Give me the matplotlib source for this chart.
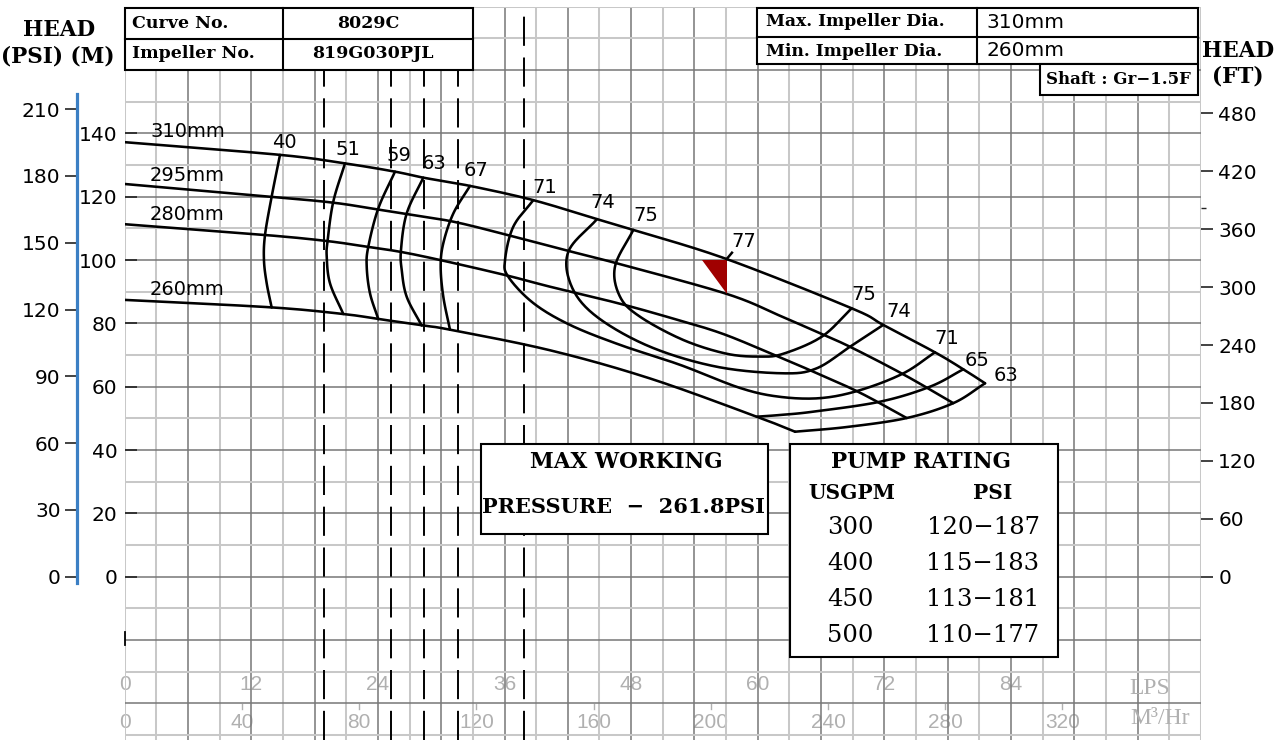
import numpy as np
import matplotlib
matplotlib.use("Agg")
import matplotlib.pyplot as plt
from matplotlib.patches import Rectangle, Polygon

# ---------------- chart values ----------------
curve_no = "8029C"
impeller_no = "819G030PJL"
max_impeller = "310mm"
min_impeller = "260mm"
shaft_text = "Shaft : Gr\u22121.5F"
max_working_psi = 261.8

lps_ticks = [0, 12, 24, 36, 48, 60, 72, 84]
m3h_ticks = [0, 40, 80, 120, 160, 200, 240, 280, 320]
head_m_ticks = [0, 20, 40, 60, 80, 100, 120, 140]
head_psi_ticks = [0, 30, 60, 90, 120, 150, 180, 210]
head_ft_ticks = [0, 60, 120, 180, 240, 300, 360, 420, 480]

guide_gpm = [300, 400, 450, 500, 600]
rating_gpm = [300, 400, 450, 500]
rating_psi = ["120\u2212187", "115\u2212183", "113\u2212181", "110\u2212177"]

# impeller diameter curves: flow (L/s) vs head (m)
dia_labels = ["310mm", "295mm", "280mm", "260mm"]
q_310 = [0, 14.72, 20.88, 25.62, 28.30, 32.73, 38.73, 44.77, 48.21, 57.06, 68.91, 71.90, 76.80, 79.49, 81.55]
h_310 = [137.2, 133.2, 130.5, 127.9, 126.0, 123.4, 118.9, 112.9, 109.5, 100.3, 84.75, 79.5, 70.86, 65.49, 61.07]
q_295 = [0, 13.77, 19.77, 23.89, 26.73, 31.15, 36.05, 41.90, 46.64, 57.06, 62.11, 66.07, 68.75, 73.80, 78.54]
h_295 = [124.0, 120.0, 118.1, 116.0, 114.5, 112.1, 108.1, 103.0, 98.96, 89.3, 82.4, 76.6, 72.6, 63.9, 54.8]
q_280 = [0, 13.30, 19.15, 22.94, 26.10, 29.89, 36.05, 40.31, 46.47, 51.37, 56.43, 61.17, 64.48, 69.51, 74.12]
h_280 = [111.3, 107.9, 106.0, 104.2, 102.6, 100.0, 95.26, 91.57, 86.6, 82.1, 77.0, 70.6, 65.9, 58.4, 50.1]
q_260 = [0, 13.77, 20.72, 24.20, 28.30, 30.83, 40.31, 49.79, 59.91, 63.54]
h_260 = [87.4, 85.07, 82.95, 81.3, 79.3, 78.0, 71.5, 62.6, 50.52, 45.78]

# efficiency (%) iso-lines: flow (L/s) vs head (m)
e40_q = [14.72, 13.93, 13.30, 13.20, 13.46, 13.93]
e40_h = [133.2, 120.0, 107.9, 100.0, 92.64, 85.0]
e51_q = [20.88, 19.77, 19.24, 19.15, 19.46, 20.72]
e51_h = [130.5, 118.4, 106.3, 101.0, 92.64, 82.95]
e59_q = [25.62, 24.04, 23.09, 22.94, 23.25, 24.04]
e59_h = [127.9, 116.3, 104.2, 97.9, 89.5, 81.3]
e63_q = [28.30, 26.73, 26.19, 26.26, 26.73, 28.15]
e63_h = [126.0, 114.7, 103.2, 96.8, 88.4, 79.3]
e67_q = [32.73, 31.15, 30.20, 29.95, 30.20, 30.83]
e67_h = [123.4, 114.7, 105.3, 97.9, 88.4, 78.0]
e71_q = [38.73, 36.83, 36.05, 36.36, 38.73, 42.21, 46.95, 52.64, 58.32, 62.10, 66.00, 69.70, 73.80, 76.80]
e71_h = [118.9, 110.5, 100.0, 94.7, 86.4, 79.5, 73.2, 66.9, 59.6, 56.8, 56.4, 58.9, 64.2, 70.86]
e74_q = [44.77, 42.05, 42.37, 44.74, 49.79, 56.11, 62.43, 65.59, 68.75, 71.90]
e74_h = [112.9, 102.6, 91.57, 82.1, 72.62, 66.3, 64.22, 65.8, 72.62, 79.5]
e75_q = [48.21, 46.47, 46.95, 48.84, 52.95, 57.06, 60.22, 62.43, 66.07, 68.91]
e75_h = [109.5, 97.9, 88.4, 82.1, 74.74, 70.4, 69.5, 70.4, 75.78, 84.75]
e65_q = [79.49, 76.33, 71.60, 65.24, 62.11, 59.91]
e65_h = [65.49, 60.0, 55.26, 52.1, 51.06, 50.52]
e63r_q = [81.55, 78.54, 74.12, 68.46, 63.54]
e63r_h = [61.07, 54.8, 50.1, 47.27, 45.78]
# best efficiency point (77 %) marker triangle
bep_q = [54.70, 57.06, 57.06]
bep_h = [100.0, 100.0, 89.3]
bep_label = "77"

# ---------------- unit conversions ----------------
M3H_PER_LPS = 3.6
LPS_PER_GPM = 0.0630902
FT_PER_M = 3.28084
M_PER_PSI = 0.70307

# ---------------- layout ----------------
FIG_W, FIG_H = 1278, 740
X0_PX, PX_PER_LPS = 124.7, 10.55
Y0_PX, PX_PER_M = 576.7, 3.167
XLIM = (0, 102)
YLIM = (-51.5, 180)

plt.rcParams["font.family"] = ["DejaVu Sans"]
fig = plt.figure(figsize=(FIG_W / 100, FIG_H / 100), dpi=100)
ax_w_px = (XLIM[1] - XLIM[0]) * PX_PER_LPS
ax_h_px = (YLIM[1] - YLIM[0]) * PX_PER_M
bottom_px = Y0_PX - YLIM[0] * PX_PER_M
ax = fig.add_axes([X0_PX / FIG_W, 1 - bottom_px / FIG_H, ax_w_px / FIG_W, ax_h_px / FIG_H])
ax.set_xlim(*XLIM)
ax.set_ylim(*YLIM)
for s in ax.spines.values():
    s.set_visible(False)

DARK = "#777777"
LIGHT = "#c8c8c8"
for q in np.arange(XLIM[0], XLIM[1] + 0.01, 3):
    dark = (q % 6 == 0) and XLIM[0] < q < XLIM[1]
    ax.axvline(q, color=DARK if dark else LIGHT, lw=1.1 if dark else 1.45, zorder=1)
for h in np.arange(-50, YLIM[1] + 0.01, 10):
    dark = (h % 20 == 0) and h < YLIM[1]
    ax.axhline(h, color=DARK if dark else LIGHT, lw=1.1 if dark else 1.45, zorder=1)


def smooth_path(qs, hs, n=24):
    p = np.column_stack([np.asarray(qs, float), np.asarray(hs, float)])
    ext = np.vstack([2 * p[0] - p[1], p, 2 * p[-1] - p[-2]])
    t = np.linspace(0, 1, n, endpoint=False)[:, None]
    segs = []
    for i in range(1, len(ext) - 2):
        p0, p1, p2, p3 = ext[i - 1], ext[i], ext[i + 1], ext[i + 2]
        segs.append(0.5 * (2 * p1 + (p2 - p0) * t + (2 * p0 - 5 * p1 + 4 * p2 - p3) * t ** 2
                           + (3 * p1 - p0 - 3 * p2 + p3) * t ** 3))
    segs.append(p[-1][None, :])
    out = np.vstack(segs)
    return out[:, 0], out[:, 1]


# dashed guide lines at the rated flows
for g in guide_gpm:
    q = g * LPS_PER_GPM
    ax.plot([q, q], [YLIM[0], YLIM[1]], color="black", lw=1.4, ls=(0, (15, 6)), zorder=2)

CURVE_KW = dict(color="black", lw=1.85, solid_capstyle="round", solid_joinstyle="round", zorder=4)
dia_curves = [(q_310, h_310), (q_295, h_295), (q_280, h_280), (q_260, h_260)]
for q, h in dia_curves:
    ax.plot(*smooth_path(q, h), **CURVE_KW)
eff_curves = [(e40_q, e40_h), (e51_q, e51_h), (e59_q, e59_h), (e63_q, e63_h), (e67_q, e67_h),
              (e71_q, e71_h), (e74_q, e74_h), (e75_q, e75_h), (e65_q, e65_h), (e63r_q, e63r_h)]
for q, h in eff_curves:
    ax.plot(*smooth_path(q, h), **CURVE_KW)

ax.add_patch(Polygon(np.column_stack([bep_q, bep_h]), closed=True, facecolor="#a00000",
                     edgecolor="none", zorder=5))
ax.plot([bep_q[1], bep_q[1] + 0.5], [h_310[9], h_310[9] + 2.0], color="black", lw=1.8, zorder=5)

# curve labels
LABEL_FS = 14
dia_label_pos = [(2.4, 140.7), (2.4, 126.8), (2.4, 114.5), (2.4, 90.8)]
for txt, (x, y) in zip(dia_labels, dia_label_pos):
    ax.text(x, y, txt, fontsize=LABEL_FS, ha="left", va="center", zorder=6)
eff_label_pos = [("40", 15.12, 137.2), ("51", 21.2, 135.0), ("59", 26.02, 132.9), ("63", 29.34, 130.5),
                 ("67", 33.28, 128.2), ("71", 39.84, 123.0), ("74", 45.35, 118.0), ("75", 49.43, 113.9),
                 (bep_label, 58.64, 105.8), ("75", 70.09, 89.2), ("74", 73.41, 83.7), ("71", 77.91, 75.3),
                 ("65", 80.76, 68.4), ("63", 83.52, 63.4)]
for txt, x, y in eff_label_pos:
    ax.text(x, y, txt, fontsize=LABEL_FS, ha="center", va="center", zorder=6)

# bottom flow scales (grey)
GREY = "#b0b0b0"
for v in lps_ticks:
    ax.text(v, -33.9, str(v), fontsize=15, color=GREY, ha="center", va="center",
            family="Liberation Sans", zorder=0.5)
for v in m3h_ticks:
    q = v / M3H_PER_LPS
    ax.text(q, -46.0, str(v), fontsize=15, color=GREY, ha="center", va="center",
            family="Liberation Sans", zorder=0.5)
    if v > 0:
        ax.plot([q, q], [-40.2, -41.8], color=GREY, lw=1.0, zorder=0.6)

# left head scale in metres (ticks pointing inside)
ax.set_xticks([])
ax.set_yticks(head_m_ticks)
ax.tick_params(axis="y", direction="in", length=8.6, width=1.2, pad=5.3, labelsize=14.5,
               color="#222222")
ax.plot([0, 0], [-17.6, -21.6], color="black", lw=1.3, zorder=5, clip_on=False)

# outer left head scale in psi (blue spine)
ax_psi = ax.twinx()
ax_psi.set_ylim(YLIM[0] / M_PER_PSI, YLIM[1] / M_PER_PSI)
for s in ax_psi.spines.values():
    s.set_visible(False)
ax_psi.spines["left"].set_visible(True)
ax_psi.spines["left"].set_position(("axes", (77 - X0_PX) / ax_w_px))
ax_psi.spines["left"].set_color("#3b7fc4")
ax_psi.spines["left"].set_linewidth(2.3)
ax_psi.spines["left"].set_bounds(-2.9, 217)
ax_psi.yaxis.tick_left()
ax_psi.set_yticks(head_psi_ticks)
ax_psi.tick_params(axis="y", direction="out", length=8.3, width=1.2, pad=3.5, labelsize=14.5,
                   color="#222222")

# right head scale in feet
ax_ft = ax.twinx()
ax_ft.set_ylim(YLIM[0] * FT_PER_M, YLIM[1] * FT_PER_M)
for s in ax_ft.spines.values():
    s.set_visible(False)
ax_ft.set_yticks(head_ft_ticks)
ax_ft.set_yticks([382], minor=True)
ax_ft.tick_params(axis="y", which="major", direction="out", length=8.6, width=1.2, pad=4,
                  labelsize=14.5, color="#222222")
ax_ft.tick_params(axis="y", which="minor", direction="out", length=3.5, width=1.0, color="#222222")

# ---------------- overlay in pixel coordinates: boxes and headings ----------------
ov = fig.add_axes([0, 0, 1, 1])
ov.set_xlim(0, FIG_W)
ov.set_ylim(FIG_H, 0)
ov.axis("off")
ov.set_zorder(20)
ov.patch.set_alpha(0)

BOX = dict(facecolor="white", edgecolor="black", lw=1.5)
SERIF_B = dict(family="DejaVu Serif", weight="bold")


def box(x0, y0, x1, y1):
    ov.add_patch(Rectangle((x0, y0), x1 - x0, y1 - y0, **BOX))


# top-left table
box(125, 7.5, 473, 70)
ov.plot([125, 473], [38.5, 38.5], color="black", lw=1.5)
ov.plot([283, 283], [7.5, 70], color="black", lw=1.5)
ov.text(132, 23, "Curve No.", fontsize=12.5, ha="left", va="center", **SERIF_B)
ov.text(132, 54, "Impeller No.", fontsize=12.5, ha="left", va="center", **SERIF_B)
ov.text(368, 23, curve_no, fontsize=12.5, ha="center", va="center", **SERIF_B)
ov.text(373, 54, impeller_no, fontsize=12.5, ha="center", va="center", **SERIF_B)

# top-right table
box(757, 7.5, 1198, 64)
ov.plot([757, 1198], [36.5, 36.5], color="black", lw=1.5)
ov.plot([977, 977], [7.5, 64], color="black", lw=1.5)
ov.text(766, 22, "Max. Impeller Dia.", fontsize=12.3, ha="left", va="center", **SERIF_B)
ov.text(766, 51, "Min. Impeller Dia.", fontsize=12.3, ha="left", va="center", **SERIF_B)
ov.text(986, 22, max_impeller, fontsize=14.5, ha="left", va="center")
ov.text(986, 51, min_impeller, fontsize=14.5, ha="left", va="center")
box(1040, 64, 1198, 95)
ov.text(1118, 80, shaft_text, fontsize=12, ha="center", va="center", **SERIF_B)

# axis headings
ov.text(59, 30, "HEAD", fontsize=15.5, ha="center", va="center", **SERIF_B)
ov.text(58, 56, "(PSI) (M)", fontsize=15.5, ha="center", va="center", **SERIF_B)
ov.text(1238, 51, "HEAD", fontsize=15.5, ha="center", va="center", **SERIF_B)
ov.text(1238, 76, "(FT)", fontsize=15.5, ha="center", va="center", **SERIF_B)
ov.text(1150, 688, "LPS", fontsize=17, color=GREY, ha="center", va="center", family="Liberation Serif")
ov.text(1160, 719, "M\u00b3/Hr", fontsize=17, color=GREY, ha="center", va="center", family="Liberation Serif")

# max working pressure box
box(481, 444, 768, 534)
ov.text(626, 462, "MAX WORKING", fontsize=15.5, ha="center", va="center", **SERIF_B)
ov.text(624, 507, "PRESSURE  \u2212  %.1fPSI" % max_working_psi, fontsize=15, ha="center",
        va="center", **SERIF_B)

# pump rating box
box(790, 444, 1058, 657)
ov.text(921, 462, "PUMP RATING", fontsize=15.5, ha="center", va="center", **SERIF_B)
ov.text(852, 493, "USGPM", fontsize=14.5, ha="center", va="center", **SERIF_B)
ov.text(993, 493, "PSI", fontsize=14.5, ha="center", va="center", **SERIF_B)
row_y = [528, 563, 600, 636]
for y, g, p in zip(row_y, rating_gpm, rating_psi):
    ov.text(850, y, str(g), fontsize=17.5, ha="center", va="center", family="DejaVu Serif")
    ov.text(983, y, p, fontsize=17.5, ha="center", va="center", family="DejaVu Serif")

fig.savefig("out.png", dpi=100)
